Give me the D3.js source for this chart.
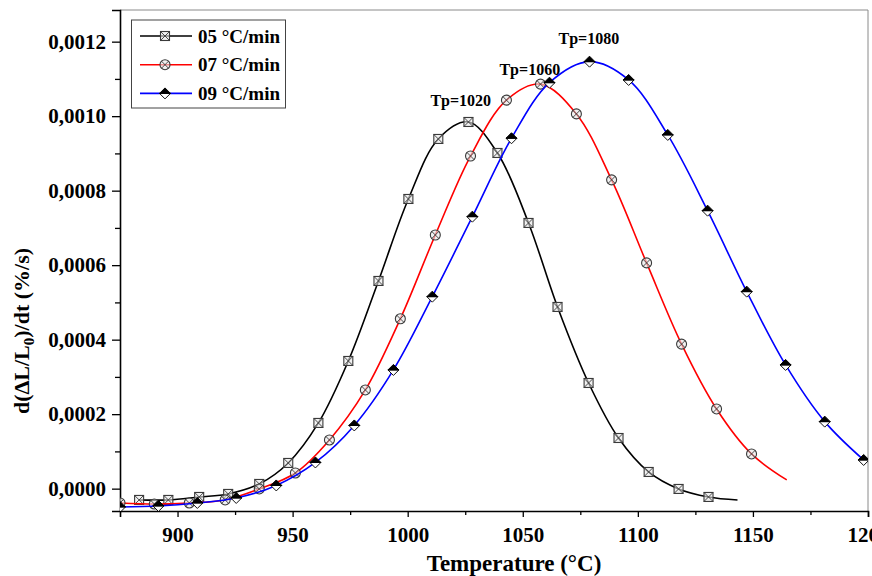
<!DOCTYPE html>
<html>
<head>
<meta charset="utf-8">
<script src="https://cdn.jsdelivr.net/npm/d3@7"></script>
<style>
  html, body { margin: 0; padding: 0; background: #fff; }
  svg { display: block; }
  text { font-family: "Liberation Serif", "Times New Roman", serif; font-weight: bold; fill: #000; }
</style>
</head>
<body>
<svg id="chart" width="872" height="576"></svg>
<script>
// Sintering rate curves at three heating rates (temperature in °C, rate in %/s)
const seriesNames = ["05 °C/min", "07 °C/min", "09 °C/min"];

const temps05 = [883.3, 896.0, 909.4, 922.0, 935.5, 948.1, 961.2, 974.2, 987.3, 1000.3, 1013.3,
                 1026.4, 1039.0, 1052.5, 1065.1, 1078.6, 1091.6, 1104.7, 1117.7, 1130.7, 1143.3];
const rates05 = [-0.0000303, -0.0000303, -0.0000223, -0.0000142, 0.0000126, 0.0000690, 0.0001764,
                 0.0003428, 0.0005576, 0.0007777, 0.0009388, 0.0009844, 0.0009012, 0.0007133,
                 0.0004878, 0.0002837, 0.0001360, 0.0000448, -0.0000008, -0.0000223, -0.0000303];

const temps07 = [875.0, 889.9, 905.1, 920.7, 935.5, 951.2, 966.0, 981.6, 996.8, 1012.0, 1027.3,
                 1042.9, 1057.7, 1073.3, 1088.6, 1103.8, 1119.0, 1134.2, 1149.4, 1164.7];
const rates07 = [-0.0000384, -0.0000411, -0.0000384, -0.0000303, -0.0000008, 0.0000421, 0.0001307,
                 0.0002650, 0.0004560, 0.0006810, 0.0008930, 0.0010430, 0.0010860, 0.0010060,
                 0.0008290, 0.0006060, 0.0003880, 0.0002140, 0.0000932, 0.0000234];

const temps09 = [875.0, 891.7, 908.6, 925.5, 942.9, 959.9, 976.8, 993.8, 1010.7, 1028.1, 1045.1,
                 1061.6, 1079.0, 1096.0, 1113.0, 1130.3, 1147.3, 1164.2, 1181.2, 1198.1];
const rates09 = [-0.0000491, -0.0000464, -0.0000384, -0.0000250, 0.0000086, 0.0000703, 0.0001697,
                 0.0003187, 0.0005154, 0.0007302, 0.0009407, 0.0010899, 0.0011463, 0.0010972,
                 0.0009496, 0.0007463, 0.0005289, 0.0003321, 0.0001799, 0.0000770];

// peak temperature annotations
const peakLabels = ["Tp=1020", "Tp=1060", "Tp=1080"];
const peakTemps = [1020, 1060, 1080];

const xTicks = [900, 950, 1000, 1050, 1100, 1150, 1200];
const yTicks = [0, 0.0002, 0.0004, 0.0006, 0.0008, 0.0010, 0.0012];

// ---- layout ----
const svg = d3.select("#chart");
const plotLeft = 120, plotRight = 868, plotTop = 10, plotBottom = 511;

const x = d3.scaleLinear().domain([875, 1200]).range([plotLeft, plotRight]);
const y = d3.scaleLinear().domain([-0.00006, 0.001285]).range([plotBottom, plotTop]);

const commaLocale = d3.formatLocale({ decimal: ",", thousands: ".", grouping: [3], currency: ["", ""] });
const fmtY = commaLocale.format(".4f");

svg.append("defs").append("clipPath").attr("id", "plotClip")
  .append("rect").attr("x", plotLeft).attr("y", plotTop)
  .attr("width", plotRight - plotLeft).attr("height", plotBottom - plotTop);

// frame (top and right sides)
svg.append("path")
  .attr("d", `M${plotLeft},${plotTop}H${plotRight}V${plotBottom}`)
  .attr("fill", "none").attr("stroke", "#8a8a8a").attr("stroke-width", 1);

// ---- axes ----
const xAxis = d3.axisBottom(x).tickValues(xTicks).tickSize(6).tickPadding(10).tickFormat(d3.format("d"));
const xMinor = d3.axisBottom(x).tickValues(d3.range(925, 1200, 50)).tickSize(4).tickFormat("");
const yAxis = d3.axisLeft(y).tickValues(yTicks).tickSize(8).tickPadding(6).tickFormat(fmtY);
const yMinor = d3.axisLeft(y).tickValues(d3.range(0.0001, 0.00128, 0.0002)).tickSize(5).tickFormat("");

function styleAxis(g) {
  g.select(".domain").attr("stroke", "#000").attr("stroke-width", 1.6);
  g.selectAll(".tick line").attr("stroke", "#000").attr("stroke-width", 1.3);
  g.selectAll(".tick text").style("font-size", "21px")
    .style("font-family", '"Liberation Serif", serif').style("font-weight", "bold");
}

svg.append("g").attr("transform", `translate(0,${plotBottom})`).call(xMinor).call(styleAxis).select(".domain").remove();
svg.append("g").attr("transform", `translate(${plotLeft},0)`).call(yMinor).call(styleAxis).select(".domain").remove();
svg.append("g").attr("transform", `translate(0,${plotBottom})`).call(xAxis).call(styleAxis);
svg.append("g").attr("transform", `translate(${plotLeft},0)`).call(yAxis).call(styleAxis);

// axis titles
svg.append("text")
  .attr("x", 514).attr("y", 571)
  .attr("text-anchor", "middle")
  .style("font-size", "23px")
  .text("Temperature (°C)");

const yTitle = svg.append("text")
  .attr("transform", "translate(29,331) rotate(-90)")
  .attr("text-anchor", "middle")
  .style("font-size", "22px");
yTitle.append("tspan").text("d(ΔL/L");
yTitle.append("tspan").attr("dy", 5).style("font-size", "15px").text("0");
yTitle.append("tspan").attr("dy", -5).text(")/dt (%/s)");

// ---- markers ----
function squareX(g, s) {
  const h = s / 2;
  g.append("rect").attr("x", -h).attr("y", -h).attr("width", s).attr("height", s)
    .attr("fill", "#e8e8e8").attr("fill-opacity", 0.6).attr("stroke", "#3a3a3a").attr("stroke-width", 1.1);
  g.append("path").attr("d", `M${-h},${-h}L${h},${h}M${-h},${h}L${h},${-h}`)
    .attr("stroke", "#3a3a3a").attr("stroke-width", 0.9);
}
function circleX(g, s) {
  const r = s / 2, d = r * 0.72;
  g.append("circle").attr("r", r)
    .attr("fill", "#e8e8e8").attr("fill-opacity", 0.6).attr("stroke", "#3a3a3a").attr("stroke-width", 1.1);
  g.append("path").attr("d", `M${-d},${-d}L${d},${d}M${-d},${d}L${d},${-d}`)
    .attr("stroke", "#3a3a3a").attr("stroke-width", 0.9);
}
function halfDiamond(g, s) {
  const h = s / 2;
  g.append("path").attr("d", `M${-h},0L0,${h}L${h},0Z`)
    .attr("fill", "#fff").attr("stroke", "#111").attr("stroke-width", 1);
  g.append("path").attr("d", `M${-h},0L0,${-h}L${h},0Z`)
    .attr("fill", "#000").attr("stroke", "#000").attr("stroke-width", 1);
}

const series = [
  { name: seriesNames[0], t: temps05, v: rates05, color: "#000000", marker: squareX, size: 9, markTail: false },
  { name: seriesNames[1], t: temps07, v: rates07, color: "#ff0000", marker: circleX, size: 10, markTail: false },
  { name: seriesNames[2], t: temps09, v: rates09, color: "#0000ff", marker: halfDiamond, size: 11, markTail: true }
];

const line = d3.line()
  .x(d => x(d[0]))
  .y(d => y(d[1]))
  .curve(d3.curveCatmullRom.alpha(0.5));

const plot = svg.append("g").attr("clip-path", "url(#plotClip)");

series.forEach(s => {
  const pts = s.t.map((t, i) => [t, s.v[i]]);
  plot.append("path").datum(pts)
    .attr("d", line)
    .attr("fill", "none")
    .attr("stroke", s.color)
    .attr("stroke-width", 1.6);
  const marks = s.markTail ? pts : pts.slice(0, -1);
  marks.forEach(p => {
    const g = plot.append("g").attr("transform", `translate(${x(p[0])},${y(p[1])})`);
    s.marker(g, s.size);
  });
});

// peak annotations
const peakOffsets = [[7, -16], [-16, -9], [-3, -18]];
series.forEach((s, i) => {
  const peak = d3.max(s.v);
  svg.append("text")
    .attr("x", x(peakTemps[i]) + peakOffsets[i][0])
    .attr("y", y(peak) + peakOffsets[i][1])
    .attr("text-anchor", "middle")
    .style("font-size", "16px")
    .text(peakLabels[i]);
});

// ---- legend ----
const legend = svg.append("g");
legend.append("rect")
  .attr("x", 131.5).attr("y", 20).attr("width", 154).attr("height", 88)
  .attr("fill", "#fff").attr("stroke", "#444").attr("stroke-width", 1);
series.forEach((s, i) => {
  const cy = 36 + i * 28.7;
  legend.append("line").attr("x1", 140).attr("x2", 192).attr("y1", cy).attr("y2", cy)
    .attr("stroke", s.color).attr("stroke-width", 1.6);
  const g = legend.append("g").attr("transform", `translate(165,${cy})`);
  s.marker(g, s.size);
  legend.append("text").attr("x", 198).attr("y", cy).attr("dy", "0.35em")
    .style("font-size", "19px").text(s.name);
});
</script>
</body>
</html>
